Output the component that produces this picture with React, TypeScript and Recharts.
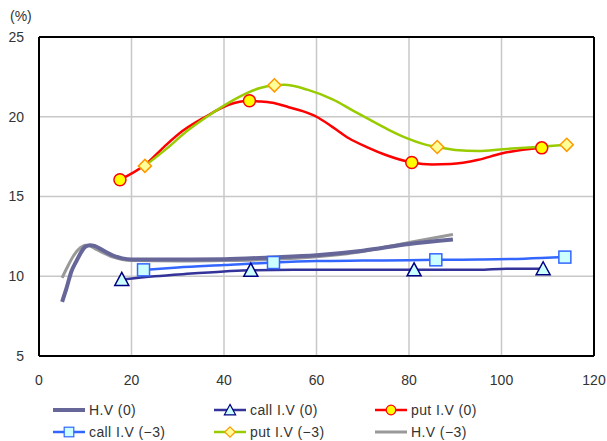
import React from "react";
import { LineChart, Line, XAxis, YAxis, CartesianGrid, ReferenceLine } from "recharts";

const X_TICKS = [0, 20, 40, 60, 80, 100, 120];
const Y_TICKS = [5, 10, 15, 20, 25];

const hv0X = [5, 6, 7, 8, 9, 10, 11, 12, 14, 16, 18, 20, 30, 40, 50, 60, 70, 80, 89.5];
const hv0Y = [8.4, 9.3, 10.3, 10.9, 11.45, 11.85, 11.95, 11.9, 11.6, 11.3, 11.12, 11.05, 11.05, 11.07, 11.18, 11.32, 11.6, 12.02, 12.3];

const hv3X = [5, 6, 7.5, 9, 10, 11, 12, 14, 16, 18, 20, 30, 40, 50, 60, 70, 80, 89.5];
const hv3Y = [9.9, 10.5, 11.3, 11.8, 11.95, 11.9, 11.75, 11.45, 11.2, 11.05, 10.98, 10.95, 10.98, 11.05, 11.22, 11.55, 12.12, 12.62];

const call0X = [17.9, 25, 32, 40, 45.8, 55, 70, 81.1, 95, 101, 109];
const call0Y = [9.8, 10.0, 10.15, 10.3, 10.38, 10.4, 10.4, 10.4, 10.4, 10.47, 10.47];
const call0M = [17.9, 45.8, 81.1, 109];

const call3X = [22.6, 30, 40, 50.7, 60, 70, 80, 85.8, 95, 105, 113.7];
const call3Y = [10.4, 10.55, 10.7, 10.86, 10.95, 10.98, 11.0, 11.03, 11.05, 11.1, 11.2];
const call3M = [22.6, 50.7, 85.8, 113.7];

const put0X = [17.5, 23, 27, 31, 36, 41, 45.5, 48, 51, 54, 57, 60, 63.5, 67, 71, 75, 80.6, 85, 89, 95, 100, 108.7];
const put0Y = [16.05, 17.0, 18.1, 19.1, 20.0, 20.75, 21.0, 20.95, 20.85, 20.6, 20.35, 20.0, 19.35, 18.65, 18.08, 17.6, 17.13, 17.0, 17.03, 17.3, 17.7, 18.05];
const put0M = [17.5, 45.5, 80.6, 108.7];

const put3X = [22.9, 27.6, 32, 36.3, 40, 43.5, 47.8, 50.9, 53, 58, 63.6, 67.5, 71.6, 75.5, 79.5, 83, 86.1, 90, 95, 100.4, 107.6, 114.1];
const put3Y = [16.92, 18.0, 19.1, 20.0, 20.7, 21.28, 21.8, 21.97, 22.0, 21.7, 21.07, 20.45, 19.8, 19.2, 18.66, 18.3, 18.1, 17.92, 17.85, 17.97, 18.1, 18.24];
const put3M = [22.9, 50.9, 86.1, 114.1];

const build = (xs: number[], ys: number[], ms: number[] = []) =>
  xs.map((x, i) => ({ x, y: ys[i], m: ms.includes(x) }));

const FONT = "'Liberation Sans', Arial, sans-serif";

type Kind = "tri" | "sq" | "circ" | "dia";

const Marker = ({ kind, cx, cy }: { kind: Kind; cx: number; cy: number }) => {
  if (kind === "tri")
    return <path d={`M${cx},${cy - 7} L${cx + 7},${cy + 6} L${cx - 7},${cy + 6} Z`} fill="#ccffff" stroke="#000080" strokeWidth={1.5} />;
  if (kind === "sq")
    return <rect x={cx - 6} y={cy - 6} width={12} height={12} fill="#ccffff" stroke="#3366ff" strokeWidth={1.5} />;
  if (kind === "circ")
    return <circle cx={cx} cy={cy} r={6} fill="#ffff00" stroke="#ff0000" strokeWidth={1.5} />;
  return <path d={`M${cx},${cy - 6.5} L${cx + 6.5},${cy} L${cx},${cy + 6.5} L${cx - 6.5},${cy} Z`} fill="#ffff99" stroke="#ff9900" strokeWidth={1.5} />;
};

const dotFor = (kind: Kind) => (props: any) => {
  const { cx, cy, payload, index } = props;
  if (!payload || !payload.m) return <g key={`e${index}`} />;
  return (
    <g key={`m${index}`}>
      <Marker kind={kind} cx={cx} cy={cy} />
    </g>
  );
};

const LegendItem = ({ left, top, color, width, kind, label }: { left: number; top: number; color: string; width: number; kind?: Kind; label: string }) => (
  <div style={{ position: "absolute", left, top, height: 20, display: "flex", alignItems: "center" }}>
    <svg width={34} height={20} style={{ display: "block" }}>
      <line x1={1} y1={10} x2={33} y2={10} stroke={color} strokeWidth={width} />
      {kind ? <g transform="translate(17,10) scale(0.8) translate(-17,-10)"><Marker kind={kind} cx={17} cy={10} /></g> : null}
    </svg>
    <span style={{ marginLeft: 3, fontFamily: FONT, fontSize: 14, letterSpacing: 0.4, color: "#333" }}>{label}</span>
  </div>
);

export default function App() {
  return (
    <div style={{ position: "absolute", left: 0, top: 0, width: 607, height: 441, background: "#fff" }}>
      <LineChart width={607} height={441} margin={{ top: 37, right: 13, left: 0, bottom: 0 }}>
        <CartesianGrid stroke="#c8c8c8" strokeWidth={1.5} />
        <XAxis
          type="number"
          dataKey="x"
          domain={[0, 120]}
          ticks={X_TICKS}
          height={85}
          axisLine={{ stroke: "#000", strokeWidth: 2 }}
          tickLine={false}
          tickSize={0}
          tickMargin={19}
          tick={{ fill: "#333", fontSize: 14, fontFamily: FONT }}
          allowDataOverflow
        />
        <YAxis
          type="number"
          dataKey="y"
          domain={[5, 25]}
          ticks={Y_TICKS}
          width={39}
          axisLine={{ stroke: "#000", strokeWidth: 2 }}
          tickLine={false}
          tickSize={0}
          tickMargin={15}
          tick={{ fill: "#333", fontSize: 14, fontFamily: FONT }}
          allowDataOverflow
        />
        <ReferenceLine y={25} stroke="#000" strokeWidth={2} />
        <ReferenceLine x={120} stroke="#000" strokeWidth={2} />
        <Line data={build(hv3X, hv3Y)} dataKey="y" type="monotone" stroke="#999999" strokeWidth={3} dot={false} isAnimationActive={false} />
        <Line data={build(hv0X, hv0Y)} dataKey="y" type="monotone" stroke="#666699" strokeWidth={4} dot={false} isAnimationActive={false} />
        <Line data={build(call0X, call0Y, call0M)} dataKey="y" type="monotone" stroke="#333399" strokeWidth={2.5} dot={dotFor("tri")} isAnimationActive={false} />
        <Line data={build(call3X, call3Y, call3M)} dataKey="y" type="monotone" stroke="#3366ff" strokeWidth={2.5} dot={dotFor("sq")} isAnimationActive={false} />
        <Line data={build(put0X, put0Y, put0M)} dataKey="y" type="monotone" stroke="#ff0000" strokeWidth={2.5} dot={dotFor("circ")} isAnimationActive={false} />
        <Line data={build(put3X, put3Y, put3M)} dataKey="y" type="monotone" stroke="#99cc00" strokeWidth={2.5} dot={dotFor("dia")} isAnimationActive={false} />
      </LineChart>
      <div style={{ position: "absolute", left: 10, top: 8, fontFamily: FONT, fontSize: 14, color: "#333" }}>(%)</div>
      <LegendItem left={52} top={400} color="#666699" width={4} label="H.V (0)" />
      <LegendItem left={213} top={400} color="#333399" width={2.5} kind="tri" label="call I.V (0)" />
      <LegendItem left={374} top={400} color="#ff0000" width={2.5} kind="circ" label="put I.V (0)" />
      <LegendItem left={52} top={422} color="#3366ff" width={2.5} kind="sq" label="call I.V (−3)" />
      <LegendItem left={213} top={422} color="#99cc00" width={2.5} kind="dia" label="put I.V (−3)" />
      <LegendItem left={374} top={422} color="#999999" width={3} label="H.V (−3)" />
    </div>
  );
}
